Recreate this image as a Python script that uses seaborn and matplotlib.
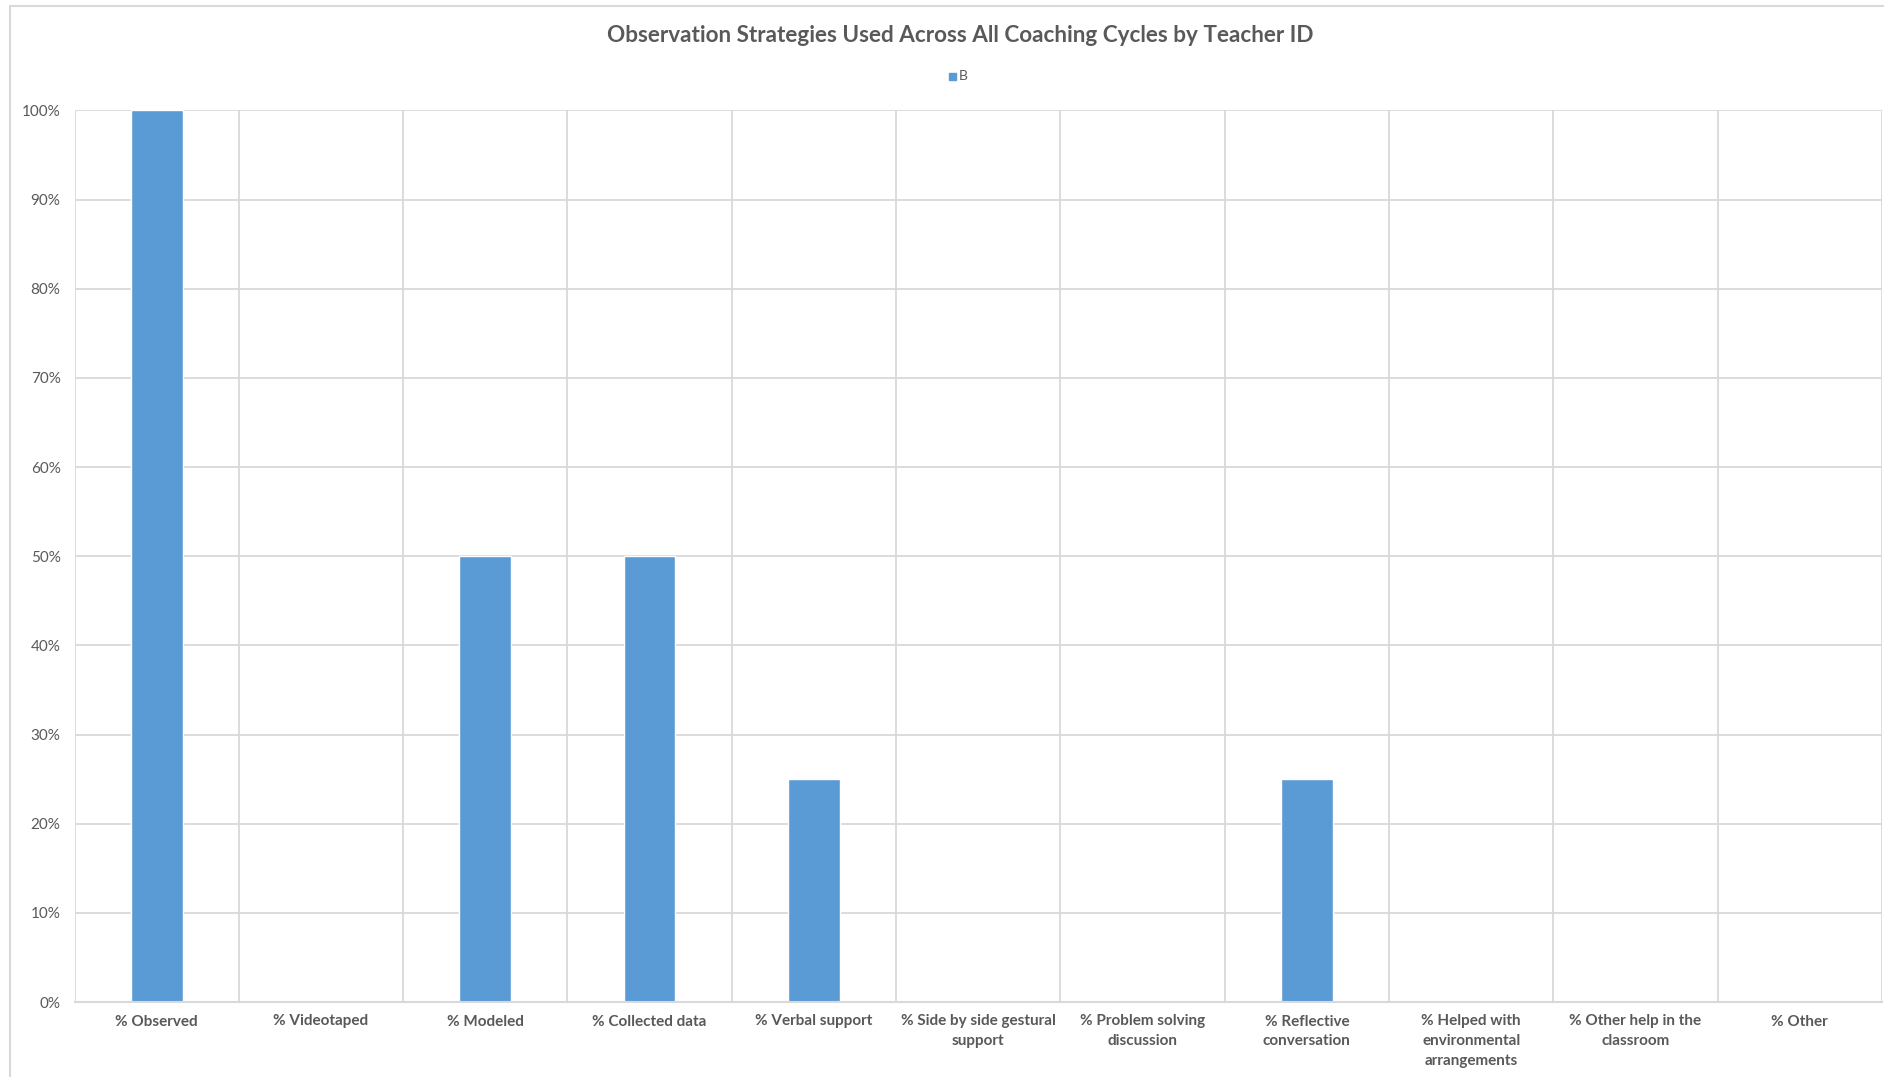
import matplotlib
matplotlib.use("Agg")
import matplotlib.pyplot as plt
import seaborn as sns
import pandas as pd
from matplotlib.patches import Rectangle

categories = ["% Observed", "% Videotaped", "% Modeled", "% Collected data",
              "% Verbal support", "% Side by side gestural\nsupport",
              "% Problem solving\ndiscussion", "% Reflective\nconversation",
              "% Helped with\nenvironmental\narrangements",
              "% Other help in the\nclassroom", "% Other"]
values_B = [1.00, 0.0, 0.50, 0.50, 0.25, 0.0, 0.0, 0.25, 0.0, 0.0, 0.0]
series_name = "B"
yticks = [0, 0.1, 0.2, 0.3, 0.4, 0.5, 0.6, 0.7, 0.8, 0.9, 1.0]
title = "Observation Strategies Used Across All Coaching Cycles by Teacher ID"

sns.set_theme(style="white")
plt.rcParams['font.family'] = ['Lato', 'DejaVu Sans']

df = pd.DataFrame({"category": categories, "value": values_B, "series": series_name})

fig = plt.figure(figsize=(18.84, 10.77), dpi=100)
fig.patches.append(Rectangle((10/1884, -0.05), 1.1, 1.05 - 6/1077,
                             transform=fig.transFigure, fill=False,
                             edgecolor="#D9D9D9", linewidth=1.5, clip_on=True))
ax = fig.add_axes([74.5/1884, 75/1077, (1882-74.5)/1884, (1002-110.5)/1077])

sns.barplot(data=df, x="category", y="value", hue="series", palette=["#5B9BD5"],
            width=0.315, ax=ax, legend=False, saturation=1)

n = len(categories)
ax.set_xlim(-0.5, n - 0.5)
ax.set_ylim(0, 1.0)
ax.set_yticks(yticks)
ax.set_yticklabels([f"{int(round(t*100))}%" for t in yticks], color="#595959", fontsize=11)
ax.set_xticks(range(n))
ax.set_xticklabels(categories, fontsize=11, fontweight="bold", color="#595959",
                   linespacing=1.5)
ax.tick_params(axis="x", length=0, pad=9)
ax.tick_params(axis="y", length=0, pad=10)
ax.set_xlabel("")
ax.set_ylabel("")

for t in yticks[1:]:
    ax.axhline(t, color="#D9D9D9", linewidth=1.3, zorder=0)
for b in range(n + 1):
    ax.axvline(b - 0.5, color="#D9D9D9", linewidth=1.3, zorder=0)

for s in ["top", "right", "left"]:
    ax.spines[s].set_visible(False)
ax.spines["bottom"].set_color("#D9D9D9")
ax.spines["bottom"].set_linewidth(1.5)

fig.text(0.5095, 1 - 36/1077, title, ha="center", va="center", fontsize=16.2,
         fontweight="bold", color="#595959")
fig.patches.append(Rectangle((949/1884, 1 - 80/1077), 7/1884, 7/1077,
                             transform=fig.transFigure, color="#5B9BD5"))
fig.text(959/1884, 1 - 76/1077, series_name, ha="left", va="center", fontsize=10,
         color="#595959")

fig.savefig("out.png", dpi=100)
